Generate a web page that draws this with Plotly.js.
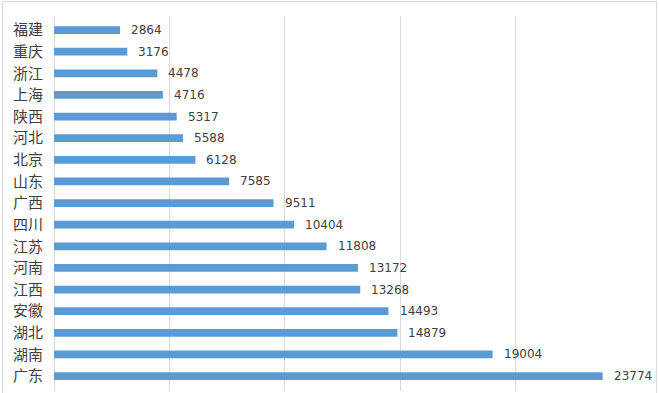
<!DOCTYPE html>
<html><head><meta charset="utf-8">
<script src="https://cdn.plot.ly/plotly-3.0.1.min.js"></script>
<style>html,body{margin:0;padding:0;background:#fff;}#wrap{position:relative;width:659px;height:393px;overflow:hidden;}#chart{width:659px;height:393px;}#frame{position:absolute;left:2px;top:1px;width:653px;height:400px;border:1px solid #d9d9d9;pointer-events:none;}</style>
</head><body>
<div id="wrap"><div id="chart"></div><div id="frame"></div></div>
<script>
const provinces = ["福建","重庆","浙江","上海","陕西","河北","北京","山东","广西","四川","江苏","河南","江西","安徽","湖北","湖南","广东"];
const values = [2864,3176,4478,4716,5317,5588,6128,7585,9511,10404,11808,13172,13268,14493,14879,19004,23774];

const trace = {
  type: 'bar', orientation: 'h',
  x: values, y: provinces,
  marker: {color: '#5b9bd5'},
  hoverinfo: 'none'
};
const annotations = provinces.map((p, i) => ({
  x: values[i], y: p, xref: 'x', yref: 'y',
  text: String(values[i]), showarrow: false,
  xanchor: 'left', xshift: 9,
  font: {family: '"DejaVu Sans","Noto Sans", sans-serif', size: 12, color: '#404040'}
}));
const layout = {
  width: 659, height: 393,
  margin: {l: 54, r: 28, t: 16, b: 2},
  paper_bgcolor: '#ffffff', plot_bgcolor: '#ffffff',
  bargap: 0.64,
  showlegend: false,
  xaxis: {range: [0, 25000], dtick: 5000, showticklabels: false, showgrid: true,
          gridcolor: '#d9d9d9', gridwidth: 1, zeroline: true, zerolinecolor: '#d9d9d9', zerolinewidth: 1,
          showline: false, fixedrange: true},
  yaxis: {range: [16.69, -0.65], type: 'category', showgrid: false, showline: false, ticks: '',
          ticklabelstandoff: 10,
          tickfont: {family: '"Noto Sans CJK SC", sans-serif', size: 15, color: '#404040'}},
  annotations: annotations
};
Plotly.newPlot('chart', [trace], layout, {staticPlot: true});
</script>
</body></html>
